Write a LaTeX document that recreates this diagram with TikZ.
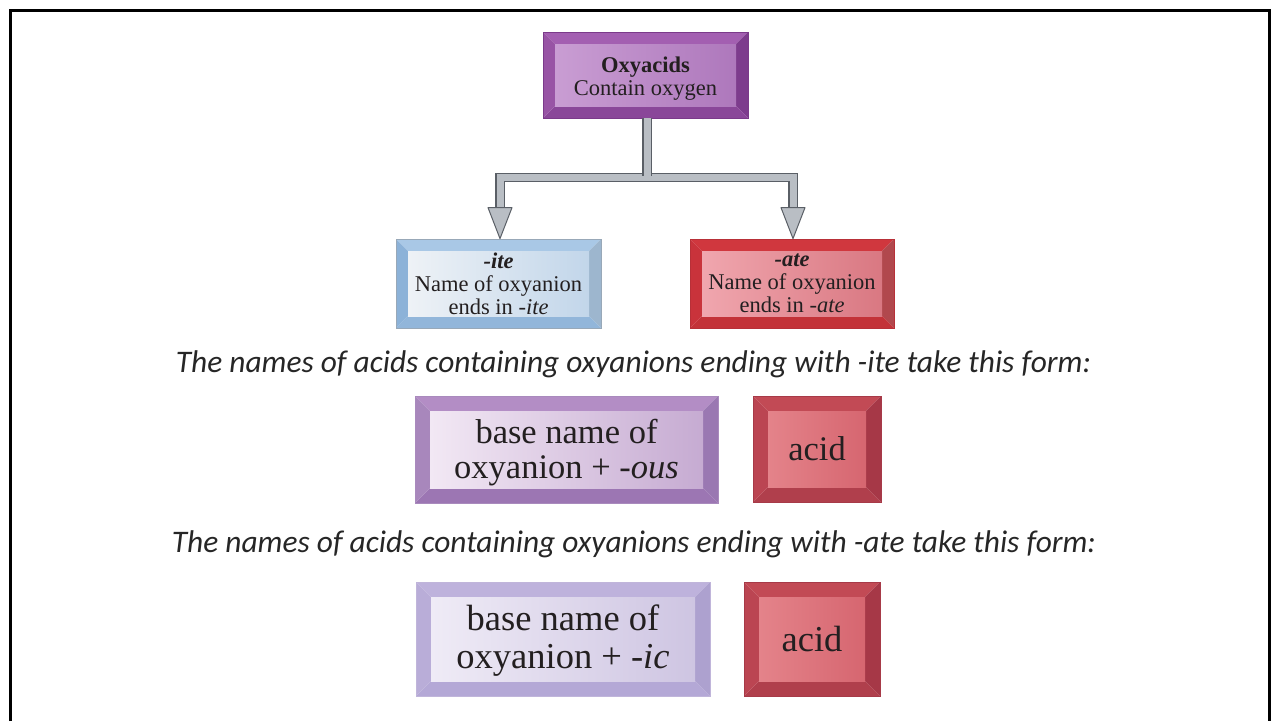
\documentclass[tikz,border=0pt]{standalone}
\usepackage{fontspec}
\setmainfont{Liberation Serif}
\newfontfamily\capfont{Carlito}
\usetikzlibrary{calc}
\definecolor{txt}{HTML}{231F20}
% Oxyacids
\definecolor{oxyFL}{HTML}{C99DD3}\definecolor{oxyFR}{HTML}{AE78BC}
\definecolor{oxyT}{HTML}{A35FB1}\definecolor{oxyR}{HTML}{7D3C8D}
\definecolor{oxyB}{HTML}{8A4799}\definecolor{oxyL}{HTML}{9854A5}
\definecolor{oxyE}{HTML}{7B3A8A}
% -ite
\definecolor{iteFL}{HTML}{EEF2F6}\definecolor{iteFR}{HTML}{C2D6EA}
\definecolor{iteT}{HTML}{A9C8E6}\definecolor{iteR}{HTML}{9DB6CE}
\definecolor{iteB}{HTML}{92B6DA}\definecolor{iteL}{HTML}{8CB2D8}
\definecolor{iteE}{HTML}{98A8B8}
% -ate
\definecolor{ateFL}{HTML}{F0A6AE}\definecolor{ateFR}{HTML}{D97882}
\definecolor{ateT}{HTML}{D0373E}\definecolor{ateR}{HTML}{B1484D}
\definecolor{ateB}{HTML}{C33238}\definecolor{ateL}{HTML}{C9333B}
\definecolor{ateE}{HTML}{B83038}
% -ous
\definecolor{ousFL}{HTML}{F2E8F4}\definecolor{ousFR}{HTML}{C6ABD2}
\definecolor{ousT}{HTML}{B38DC5}\definecolor{ousR}{HTML}{9A78B2}
\definecolor{ousB}{HTML}{9C76B3}\definecolor{ousL}{HTML}{A887BC}
\definecolor{ousE}{HTML}{A98ABD}
% acid
\definecolor{acFL}{HTML}{E4838A}\definecolor{acFR}{HTML}{D66670}
\definecolor{acT}{HTML}{C24A55}\definecolor{acR}{HTML}{A63847}
\definecolor{acB}{HTML}{B03F4C}\definecolor{acL}{HTML}{BB4552}
\definecolor{acE}{HTML}{A73A48}
% -ic
\definecolor{icFL}{HTML}{EFEBF6}\definecolor{icFR}{HTML}{CEC5E2}
\definecolor{icT}{HTML}{BEB2DC}\definecolor{icR}{HTML}{ADA1CF}
\definecolor{icB}{HTML}{B4A8D6}\definecolor{icL}{HTML}{B9ADD8}
\definecolor{icE}{HTML}{C0B5DA}
% pipe
\definecolor{pipeE}{HTML}{5A5F66}\definecolor{pipeF}{HTML}{B9BEC4}

\tikzset{
  bev/.style n args={7}{rectangle, inner sep=0pt, align=center, text=txt,
    line width=0.8pt,
    path picture={
      \coordinate (pa) at (path picture bounding box.north west);
      \coordinate (pb) at (path picture bounding box.north east);
      \coordinate (pc) at (path picture bounding box.south east);
      \coordinate (pd) at (path picture bounding box.south west);
      \coordinate (pA) at ($(pa)+(#7,-#7)$);
      \coordinate (pB) at ($(pb)+(-#7,-#7)$);
      \coordinate (pC) at ($(pc)+(-#7,#7)$);
      \coordinate (pD) at ($(pd)+(#7,#7)$);
      \fill[#3] (pa) -- (pb) -- (pB) -- (pA) -- cycle;
      \fill[#4] (pb) -- (pc) -- (pC) -- (pB) -- cycle;
      \fill[#5] (pc) -- (pd) -- (pD) -- (pC) -- cycle;
      \fill[#6] (pd) -- (pa) -- (pA) -- (pD) -- cycle;
      \shade[left color=#1, right color=#2] (pA) rectangle (pC);
    }},
  smalltxt/.style={font=\fontsize{22.5}{23}\selectfont},
  bigtxt/.style={font=\fontsize{34.5}{35}\selectfont},
  bigtxtb/.style={font=\fontsize{36.5}{38}\selectfont},
  caption/.style={font=\capfont\itshape\fontsize{31.4}{34}\selectfont, text=black!85, inner sep=0pt},
  pipe/.style={draw=pipeE, line width=1.2pt, double=pipeF, double distance=7pt},
  head/.style={fill=pipeF, draw=pipeE, line width=1pt, line join=round},
  frame/.style={line width=2.6pt}
}
\newcommand{\lowerby}[2]{\raisebox{-#1}[\height][\depth]{\begin{tabular}{@{}c@{}}#2\end{tabular}}}

\begin{document}
\begin{tikzpicture}[x=1pt,y=-1pt]
\useasboundingbox (0,0) rectangle (1278,721);
\draw[frame] (10.3,721) -- (10.3,10.3) -- (1269.7,10.3) -- (1269.7,721);

\node[bev={oxyFL}{oxyFR}{oxyT}{oxyR}{oxyB}{oxyL}{12pt}, draw=oxyE,
      minimum width=205pt, minimum height=86pt, smalltxt] (oxy) at (645.5,75)
      {\lowerby{4pt}{\textbf{Oxyacids}\\Contain oxygen}};

\node[bev={iteFL}{iteFR}{iteT}{iteR}{iteB}{iteL}{12pt}, draw=iteE,
      minimum width=205pt, minimum height=89pt, smalltxt] (ite) at (498.5,283.5)
      {\textbf{\textit{-ite}}\\Name of oxyanion\\ends in \textit{-ite}};

\node[bev={ateFL}{ateFR}{ateT}{ateR}{ateB}{ateL}{12pt}, draw=ateE,
      minimum width=204pt, minimum height=89pt, smalltxt] (ate) at (792,283.5)
      {\textbf{\textit{-ate}}\\Name of oxyanion\\ends in \textit{-ate}};

% connectors
\coordinate (j) at (647,177.5);
\coordinate (iteArr) at ($(ite.north)+(1.5pt,31pt)$);
\coordinate (ateArr) at ($(ate.north)+(1pt,31pt)$);
\draw[pipe] (iteArr) |- (j) -| (ateArr);
\draw[pipe] (oxy.south -| j) -- ($(j)+(0,2pt)$);
\filldraw[head] ($(iteArr)+(-12pt,0)$) -- ($(iteArr)+(12pt,0)$) -- (ite.north -| iteArr) -- cycle;
\filldraw[head] ($(ateArr)+(-12pt,0)$) -- ($(ateArr)+(12pt,0)$) -- (ate.north -| ateArr) -- cycle;

\node[caption] (cap1) at (633.5,364)
  {The names of acids containing oxyanions ending with -ite take this form:};

\node[bev={ousFL}{ousFR}{ousT}{ousR}{ousB}{ousL}{15pt}, draw=ousE,
      minimum width=303pt, minimum height=107pt, bigtxt] (ous) at (566.5,449.5)
      {\lowerby{4pt}{base name of\\oxyanion + \textit{-ous}}};

\node[bev={acFL}{acFR}{acT}{acR}{acB}{acL}{15pt}, draw=acE,
      minimum width=128pt, minimum height=106pt, bigtxt] (acid1) at (817,449)
      {acid};

\node[caption] (cap2) at (634,544)
  {The names of acids containing oxyanions ending with -ate take this form:};

\node[bev={icFL}{icFR}{icT}{icR}{icB}{icL}{15pt}, draw=icE,
      minimum width=294pt, minimum height=114pt, bigtxtb] (ic) at (563,639)
      {\lowerby{3pt}{base name of\\oxyanion + \textit{-ic}}};

\node[bev={acFL}{acFR}{acT}{acR}{acB}{acL}{15pt}, draw=acE,
      minimum width=136pt, minimum height=114pt, bigtxtb] (acid2) at (812,639)
      {acid};
\end{tikzpicture}
\end{document}
